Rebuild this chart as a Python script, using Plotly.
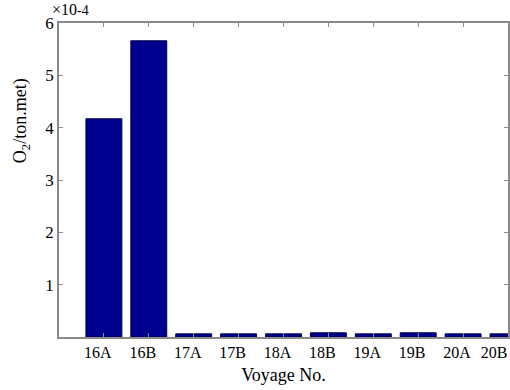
import plotly.graph_objects as go

voyages = ["16A", "16B", "17A", "17B", "18A", "18B", "19A", "19B", "20A", "20B"]
o2_per_ton_met = [4.17, 5.66, 0.06, 0.06, 0.06, 0.08, 0.06, 0.08, 0.06, 0.06]  # x10^-4
y_ticks = [1, 2, 3, 4, 5, 6]

FONT = "Liberation Serif"
AXC = "#8a8a8a"

fig = go.Figure()
fig.add_trace(go.Bar(
    x=list(range(len(voyages))),
    y=o2_per_ton_met,
    width=0.8,
    marker=dict(color="#00008f", line=dict(color="#00004a", width=1)),
    showlegend=False,
))

# last label padded so it is not cut off at the right edge of the page
tick_text = voyages[:-1] + [voyages[-1] + "\u2007\u2007\u200b"]

fig.update_layout(
    width=510, height=390,
    margin=dict(l=59, r=2, t=23, b=53),
    paper_bgcolor="white", plot_bgcolor="white",
    font=dict(family=FONT, size=16, color="black"),
)
fig.update_xaxes(
    range=[-1, len(voyages) - 1],
    tickmode="array",
    tickvals=list(range(len(voyages))),
    ticktext=tick_text,
    ticks="inside", ticklen=4, tickcolor=AXC, tickwidth=1,
    ticklabelshift=-6, ticklabeloverflow="allow",
    showline=True, linecolor=AXC, linewidth=1.5, mirror="ticks",
    showgrid=False, zeroline=False, automargin=False,
    title=dict(text="Voyage No.", font=dict(family=FONT, size=18), standoff=8),
)
fig.update_yaxes(
    range=[0, 6.0],
    tickmode="array", tickvals=y_ticks,
    ticktext=[str(v) for v in y_ticks],
    ticks="inside", ticklen=4, tickcolor=AXC, tickwidth=1,
    showline=True, linecolor=AXC, linewidth=1.5, mirror="ticks",
    showgrid=False, zeroline=False, automargin=False,
    tickfont=dict(family=FONT, size=17),
)
fig.add_annotation(
    text="O<sub>2</sub>/ton.met)", textangle=-90,
    xref="paper", yref="paper", x=-0.082, y=0.688,
    xanchor="center", yanchor="middle", showarrow=False,
    font=dict(family=FONT, size=18),
)
fig.add_annotation(
    text="×10<span style='font-size:14px'>-4</span>",
    xref="paper", yref="paper", x=-0.02, y=1.0,
    xanchor="left", yanchor="bottom", yshift=3, showarrow=False,
    font=dict(family=FONT, size=16),
)
fig.write_html(
    "out.html",
    config={"displayModeBar": False},
    post_script="document.body.style.margin='0px';document.body.style.overflow='hidden';",
)
